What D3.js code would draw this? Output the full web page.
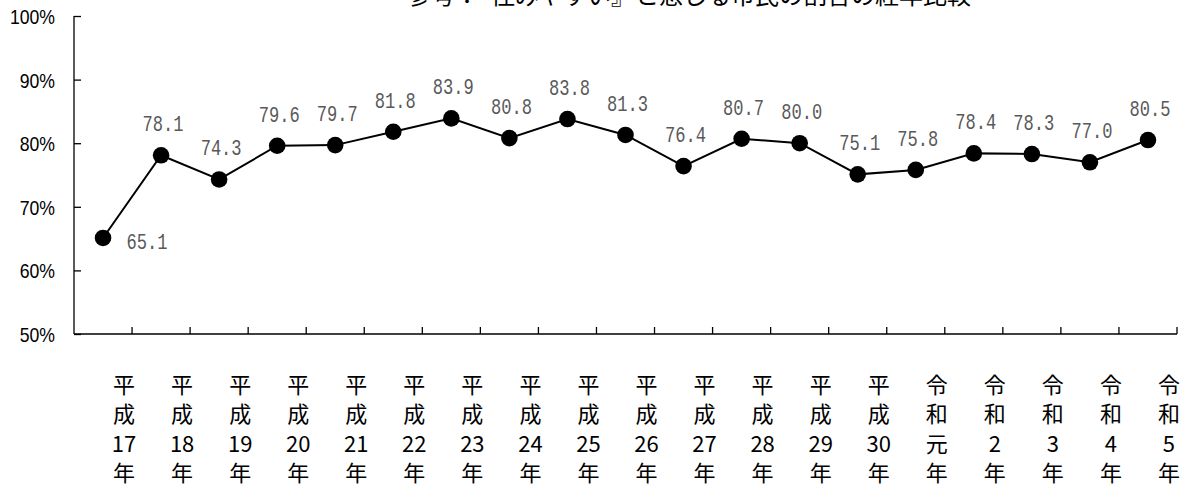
<!DOCTYPE html>
<html>
<head>
<meta charset="utf-8">
<script src="https://cdn.jsdelivr.net/npm/d3@7"></script>
<style>
  body { margin: 0; background: #fff; }
  svg { display: block; }
</style>
</head>
<body>
<div id="chart"></div>
<script>
const eras = ["平成","平成","平成","平成","平成","平成","平成","平成","平成","平成","平成","平成","平成","平成","令和","令和","令和","令和","令和"];
const yearNums = ["17","18","19","20","21","22","23","24","25","26","27","28","29","30","元","2","3","4","5"];
const rates = [65.1, 78.1, 74.3, 79.6, 79.7, 81.8, 83.9, 80.8, 83.8, 81.3, 76.4, 80.7, 80.0, 75.1, 75.8, 78.4, 78.3, 77.0, 80.5];
const yTicks = [50, 60, 70, 80, 90, 100];
const title = "参考：『住みやすい』と感じる市民の割合の経年比較";

const fullwidth = 1183;
const fullheight = 488;
const plotLeft = 74, plotRight = 1177, plotTop = 16, plotBottom = 334;

const categories = eras.map((e, i) => e + yearNums[i] + "年");

const svg = d3.select("#chart")
  .append("svg")
  .attr("width", fullwidth)
  .attr("height", fullheight);

const x = d3.scaleBand().domain(categories).range([plotLeft, plotRight]);
const y = d3.scaleLinear().domain([50, 100]).range([plotBottom, plotTop]);

// title (cut off at top edge, as in the original)
svg.append("text")
  .attr("x", 689)
  .attr("y", 4)
  .attr("text-anchor", "middle")
  .style("font-family", "'Noto Sans CJK JP'")
  .style("font-size", "24px")
  .text(title);

// y axis, ticks pointing inward
const yAxis = svg.append("g")
  .attr("transform", `translate(${plotLeft},0)`)
  .call(d3.axisRight(y).tickValues(yTicks).tickSize(7).tickFormat(""));
yAxis.select(".domain").attr("d", `M0,${plotTop}V${plotBottom}`);
yAxis.selectAll("line, path").attr("stroke", "#000").attr("stroke-width", 1.3);

yAxis.selectAll(".tick")
  .append("text")
  .attr("x", -19)
  .attr("dy", "0.36em")
  .attr("text-anchor", "end")
  .attr("fill", "#000")
  .style("font-family", "'Liberation Sans', Arial, sans-serif")
  .style("font-size", "21px")
  .text(d => d + "%")
  .each(function() {
    const w = this.getComputedTextLength();
    d3.select(this).attr("textLength", w * 0.84).attr("lengthAdjust", "spacingAndGlyphs");
  });

// x axis: ticks at category boundaries, pointing up
const boundaries = categories.map(c => x(c) + x.bandwidth());
svg.append("path")
  .attr("d", `M${plotLeft},${plotBottom}H${plotRight}`)
  .attr("stroke", "#000")
  .attr("stroke-width", 1.3)
  .attr("fill", "none");
svg.selectAll(".xtick")
  .data(boundaries)
  .enter().append("line")
  .attr("class", "xtick")
  .attr("x1", d => d).attr("x2", d => d)
  .attr("y1", plotBottom).attr("y2", plotBottom - 7)
  .attr("stroke", "#000")
  .attr("stroke-width", 1.3);

// category labels, stacked vertically
const rowY = [385, 414.5, 444, 473.5];
const catG = svg.selectAll(".cat")
  .data(categories)
  .enter().append("g")
  .attr("class", "cat")
  .attr("transform", d => `translate(${x(d) + x.bandwidth() / 2 + 21},0)`);

catG.each(function(d, i) {
  const rows = [eras[i][0], eras[i][1], yearNums[i], "年"];
  d3.select(this).selectAll("text")
    .data(rows)
    .enter().append("text")
    .attr("y", (r, k) => rowY[k])
    .attr("dy", "0.36em")
    .attr("text-anchor", "middle")
    .style("font-family", "'Noto Sans CJK JP'")
    .style("font-size", "22px")
    .attr("fill", "#000")
    .text(r => r);
});

// line
const cx = (d, i) => x(categories[i]) + x.bandwidth() / 2;
const line = d3.line()
  .x(cx)
  .y(d => y(d));

svg.append("path")
  .datum(rates)
  .attr("d", line)
  .attr("fill", "none")
  .attr("stroke", "#000")
  .attr("stroke-width", 2);

svg.selectAll(".dot")
  .data(rates)
  .enter().append("circle")
  .attr("class", "dot")
  .attr("cx", cx)
  .attr("cy", d => y(d))
  .attr("r", 8.3)
  .attr("fill", "#000");

// value labels
svg.selectAll(".val")
  .data(rates)
  .enter().append("text")
  .attr("class", "val")
  .attr("x", (d, i) => i === 0 ? cx(d, i) + 44 : cx(d, i) + 2)
  .attr("y", (d, i) => i === 0 ? y(d) + 3 : y(d) - 32)
  .attr("dy", "0.36em")
  .attr("text-anchor", "middle")
  .attr("fill", "#595959")
  .style("font-family", "'Liberation Mono', monospace")
  .style("font-size", "22px")
  .attr("textLength", 41)
  .attr("lengthAdjust", "spacingAndGlyphs")
  .text(d => d3.format(".1f")(d));
</script>
</body>
</html>
